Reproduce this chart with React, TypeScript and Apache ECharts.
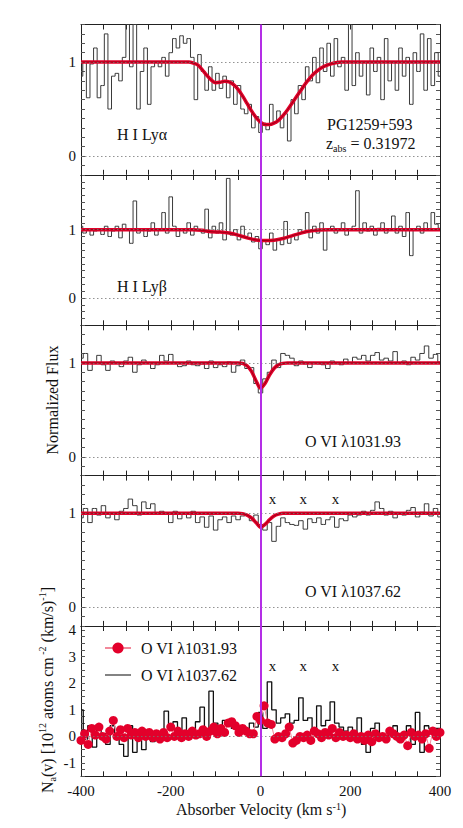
import React, { useEffect, useRef } from "react";
import * as echarts from "echarts";

const FONT = "'Liberation Serif', 'DejaVu Serif', serif";

// velocity grid descriptors (km/s)
const V_START = -400;
const STEP_HI = 8; // H I panels and O VI AOD points
const STEP_OVI = 10; // O VI flux panels and O VI 1037 AOD

const lyaFlux = [
  0.85, 1.0, 0.62, 0.98, 1.15, 0.62, 0.75, 1.3, 0.5, 0.85, 0.88, 0.8, 1.05, 1.4, 0.95, 1.4, 0.5, 0.9, 1.15, 0.55,
  0.95, 1.0, 0.95, 1.05, 0.85, 1.1, 1.25, 1.15, 1.28, 1.2, 1.25, 1.05, 0.6, 1.08, 0.9, 0.7, 0.95, 0.7, 0.88, 0.72,
  0.85, 0.62, 0.8, 0.55, 0.75, 0.5, 0.45, 0.55, 0.3, 0.42, 0.25, 0.35, 0.28, 0.55, 0.35, 0.48, 0.3, 0.45, 0.16, 0.6,
  0.45, 0.75, 0.6, 0.95, 0.8, 1.05, 0.78, 1.15, 0.9, 1.2, 0.85, 1.25, 0.95, 1.05, 0.7, 1.4, 0.75, 1.1, 0.85, 1.0,
  0.65, 1.15, 0.9, 1.05, 0.6, 1.25, 0.8, 1.0, 0.7, 1.15, 0.85, 1.05, 0.55, 1.1, 0.9, 1.3, 0.7, 1.25, 0.75, 1.1, 0.85,
];

const lybFlux = [
  1.05, 0.95, 1.0, 0.92, 0.98, 1.0, 0.93, 1.05, 0.9, 0.98, 1.05, 0.88, 1.08, 1.0, 0.8, 1.42, 0.95, 1.0, 0.9, 0.98,
  1.1, 0.92, 1.0, 1.25, 0.95, 1.48, 1.05, 0.9, 1.0, 0.95, 1.1, 0.92, 1.05, 1.0, 0.95, 1.3, 0.88, 1.05, 0.95, 1.1,
  0.85, 1.75, 0.92, 1.0, 0.85, 1.05, 0.9, 0.95, 0.82, 0.9, 0.72, 0.85, 0.78, 0.95, 0.7, 0.85, 0.78, 1.12, 0.8, 0.9,
  0.85, 1.0, 0.95, 1.25, 0.88, 1.05, 0.95, 1.1, 0.7, 1.0, 1.05, 0.95, 1.0, 1.1, 0.92, 1.0, 1.05, 1.57, 0.95, 1.1,
  0.98, 1.05, 0.92, 1.02, 1.1, 0.95, 1.0, 1.2, 0.95, 1.05, 0.9, 1.25, 0.62, 1.0, 1.05, 0.95, 1.1, 1.0, 1.25, 1.08, 1.02,
];

const o1031Flux = [
  1.05, 1.1, 0.92, 1.0, 1.08, 0.98, 0.92, 1.02, 1.0, 0.96, 1.02, 1.06, 0.9, 0.98, 1.03, 1.0, 0.94, 0.98, 1.08, 1.02,
  1.09, 1.0, 0.96, 0.97, 1.02, 0.98, 0.97, 0.99, 0.94, 1.02, 0.95, 0.98, 0.96, 1.01, 0.9, 0.97, 1.03, 0.94, 0.95, 0.78,
  0.68, 0.83, 0.9, 1.03, 0.95, 1.1, 1.08, 1.05, 0.97, 1.02, 0.99, 0.95, 1.0, 0.99, 0.98, 0.94, 1.02, 1.0, 0.98, 1.04,
  1.0, 1.06, 1.04, 1.08, 1.02, 1.08, 1.11, 1.03, 1.05, 1.02, 1.12, 1.0, 1.02, 0.98, 1.06, 1.03, 1.1, 1.18, 1.05, 1.09, 1.01,
];

const o1037Flux = [
  0.95, 1.05, 0.9, 1.05, 0.98, 1.08, 0.95, 1.0, 0.93, 1.02, 1.05, 1.15, 1.08, 0.98, 1.12, 1.05, 1.1, 1.0, 1.02, 1.0,
  0.9, 1.02, 0.94, 1.0, 0.95, 1.02, 0.9, 0.96, 0.85, 0.97, 0.82, 0.93, 0.96, 0.9, 0.97, 0.93, 0.97, 0.98, 0.92, 0.98,
  0.88, 0.82, 0.9, 0.7, 0.86, 0.95, 0.9, 0.88, 0.87, 0.92, 0.83, 0.94, 0.9, 0.95, 0.88, 0.93, 0.96, 0.85, 0.94, 0.92,
  0.98, 0.96, 0.98, 1.02, 0.98, 1.03, 1.12, 1.05, 0.98, 1.02, 0.95, 1.0, 0.98, 1.03, 1.06, 0.96, 1.01, 1.1, 0.97, 1.05, 0.96,
];

// apparent column density profiles, 10^12 atoms cm^-2 (km/s)^-1
const na1037 = [
  1.0, -0.1, 0.4, -0.4, 0.4, 0.1, -0.3, 0.4, 0.1, -0.3, -0.75, 0.4, -0.6, 0.2, -0.5, 0.1, -0.2, -0.1, 0.0, 0.95,
  0.3, 0.55, 0.2, 0.7, 0.2, 0.2, 0.55, 1.1, 0.25, 1.7, 0.5, 0.2, 0.6, 0.5, 0.3, 0.35, 0.4, 0.2, 0.5, 0.35,
  0.9, 0.3, 2.05, 1.0, 0.5, 0.7, 0.85, 0.5, 0.6, 1.45, 0.6, 0.7, 0.2, 1.15, 0.4, 0.6, 1.3, 0.5, 0.35, 0.2,
  0.35, 0.15, 0.7, -0.3, -0.6, 0.3, 0.5, 0.1, -0.1, 0.2, 0.4, -0.2, 0.1, 0.4, -0.3, 0.9, -0.6, 0.4, 0.3, 0.3, 0.3,
];

const na1031 = [
  -0.15, 0.1, -0.3, 0.3, 0.05, 0.35, 0.0, -0.1, 0.2, 0.6, 0.0, 0.25, -0.05, 0.3, 0.05, 0.15, -0.05, 0.2, 0.0, 0.15,
  -0.05, 0.1, -0.1, 0.15, -0.05, 0.35, 0.0, 0.2, -0.05, 0.1, 0.0, 0.2, 0.05, 0.1, 0.25, 0.0, 0.2, 0.35, 0.1, 0.3,
  0.15, 0.5, 0.55, 0.4, 0.15, 0.3, 0.2, 0.1, 0.1, 0.75, 0.6, 1.15, 0.5, 0.45, -0.1, 0.0, -0.05, 0.1, 0.35, -0.25,
  -0.15, 0.0, -0.05, 0.05, -0.15, 0.2, 0.1, -0.05, 0.15, 0.05, 0.3, -0.05, 0.15, 0.0, 0.05, -0.05, 0.1, -0.1, 0.0, -0.15,
  0.05, -0.2, 0.1, -0.05, 0.0, -0.1, 0.2, 0.1, 0.0, -0.1, 0.05, -0.35, 0.15, 0.0, 0.05, -0.1, 0.1, -0.45, 0.2, 0.0, 0.15,
];

// model fits (velocity, normalized flux)
const lyaFitVel = [-400, -200, -160, -150, -140, -130, -120, -110, -100, -90, -80, -70, -60, -50, -40, -30, -20, -10, 0, 10, 20, 30, 40, 50, 60, 70, 80, 90, 100, 110, 120, 130, 140, 150, 160, 170, 180, 200, 400];
const lyaFitFlux = [1, 1, 1, 0.99, 0.97, 0.92, 0.86, 0.81, 0.78, 0.785, 0.795, 0.79, 0.76, 0.71, 0.64, 0.56, 0.48, 0.41, 0.36, 0.335, 0.335, 0.35, 0.38, 0.43, 0.49, 0.56, 0.63, 0.7, 0.77, 0.83, 0.88, 0.92, 0.95, 0.97, 0.985, 0.995, 1, 1, 1];
const lybFitVel = [-400, -150, -130, -110, -90, -70, -50, -30, -10, 10, 30, 50, 70, 90, 110, 130, 150, 400];
const lybFitFlux = [1, 1, 0.99, 0.97, 0.965, 0.95, 0.92, 0.88, 0.85, 0.84, 0.845, 0.87, 0.91, 0.95, 0.98, 0.995, 1, 1];
const o1031FitVel = [-400, -50, -40, -30, -20, -10, 0, 10, 20, 30, 40, 50, 60, 400];
const o1031FitFlux = [1, 1, 0.995, 0.97, 0.91, 0.81, 0.73, 0.78, 0.87, 0.94, 0.98, 0.995, 1, 1];
const o1037FitVel = [-400, -50, -40, -30, -20, -10, 0, 10, 20, 30, 40, 50, 400];
const o1037FitFlux = [1, 1, 0.995, 0.98, 0.95, 0.9, 0.85, 0.88, 0.93, 0.97, 0.99, 1, 1];

const xTickLabels = [-400, -200, 0, 200, 400];
const contaminationVel = [27, 95, 167];

const PLOT_LEFT = 81;
const PLOT_WIDTH = 359;
const PANEL_TOPS = [24.5, 175, 325.3, 475.6, 626];
const PANEL_H = 150.3;
const Y_RANGES: [number, number, number][] = [
  [-0.2, 1.4, 0.1],
  [-0.4, 1.8, 0.1],
  [-0.2, 1.4, 0.1],
  [-0.2, 1.4, 0.1],
  [-1.5, 4.15, 0.25],
];

const RED = "#e3002b";
const MAGENTA = "#b42ee6";
const AXIS_C = "#222";

function grid(v: number[], start: number, step: number) {
  return v.map((y, i) => [start + step * i, y]);
}
function pairs(x: number[], y: number[]) {
  return x.map((xx, i) => [xx, y[i]]);
}

export default function App() {
  const ref = useRef<HTMLDivElement>(null);
  useEffect(() => {
    if (!ref.current) return;
    const chart = echarts.init(ref.current, null, { renderer: "svg" });

    const grids = PANEL_TOPS.map((t) => ({
      left: PLOT_LEFT,
      top: t,
      width: PLOT_WIDTH,
      height: PANEL_H,
      containLabel: false,
      outerBoundsMode: "none",
    }));

    const xAxes: any[] = [];
    const yAxes: any[] = [];
    PANEL_TOPS.forEach((_, gi) => {
      const isBottom = gi === PANEL_TOPS.length - 1;
      ["bottom", "top"].forEach((pos) => {
        xAxes.push({
          type: "value",
          gridIndex: gi,
          position: pos,
          min: -400,
          max: 400,
          interval: 50,
          axisLine: { show: true, onZero: false, lineStyle: { color: AXIS_C, width: 1 } },
          axisTick: { show: true, inside: true, length: 5, lineStyle: { color: AXIS_C } },
          axisLabel: {
            show: isBottom && pos === "bottom",
            formatter: (v: number) => (xTickLabels.includes(v) ? String(v) : ""),
            fontFamily: FONT,
            fontSize: 15,
            color: "#111",
            margin: 7,
          },
          splitLine: { show: false },
        });
      });
      const [mn, mx, iv] = Y_RANGES[gi];
      ["left", "right"].forEach((pos) => {
        yAxes.push({
          type: "value",
          gridIndex: gi,
          position: pos,
          min: mn,
          max: mx,
          interval: iv,
          axisLine: { show: true, onZero: false, lineStyle: { color: AXIS_C, width: 1 } },
          axisTick: { show: true, inside: true, length: 4, lineStyle: { color: "#555" } },
          axisLabel: {
            show: pos === "left",
            formatter: (v: number) => {
              const r = Math.round(v);
              if (Math.abs(v - r) > 1e-6) return "";
              if (gi < 4) return r === 0 || r === 1 ? String(r) : "";
              return r <= 4 ? String(r) : "";
            },
            fontFamily: FONT,
            fontSize: 15,
            color: "#111",
            margin: 5,
          },
          splitLine: { show: false },
        });
      });
    });

    const refLines = (gi: number) => ({
      silent: true,
      symbol: ["none", "none"],
      label: { show: false },
      data:
        gi < 4
          ? [
              { yAxis: 1, lineStyle: { color: "#777", type: [1.5, 2.5], width: 0.8 } },
              { yAxis: 0, lineStyle: { color: "#777", type: [1.5, 2.5], width: 0.8 } },
              { xAxis: 0, lineStyle: { color: MAGENTA, type: "solid", width: 2 } },
            ]
          : [
              { yAxis: 0, lineStyle: { color: "#777", type: [1.5, 2.5], width: 0.8 } },
              { xAxis: 0, lineStyle: { color: MAGENTA, type: "solid", width: 2 } },
            ],
    });

    const fluxPanels = [
      { data: grid(lyaFlux, V_START, STEP_HI), fit: pairs(lyaFitVel, lyaFitFlux) },
      { data: grid(lybFlux, V_START, STEP_HI), fit: pairs(lybFitVel, lybFitFlux) },
      { data: grid(o1031Flux, V_START, STEP_OVI), fit: pairs(o1031FitVel, o1031FitFlux) },
      { data: grid(o1037Flux, V_START, STEP_OVI), fit: pairs(o1037FitVel, o1037FitFlux) },
    ];

    const series: any[] = [];
    fluxPanels.forEach((p, gi) => {
      series.push({
        type: "line",
        xAxisIndex: gi * 2,
        yAxisIndex: gi * 2,
        data: p.data,
        step: "middle",
        symbol: "none",
        lineStyle: { color: "#3a3a3a", width: 1 },
        z: 2,
      });
      series.push({
        type: "line",
        xAxisIndex: gi * 2,
        yAxisIndex: gi * 2,
        data: p.fit,
        smooth: 0.3,
        symbol: "none",
        lineStyle: { color: RED, width: 3.5 },
        z: 3,
      });
      series.push({
        type: "line",
        xAxisIndex: gi * 2,
        yAxisIndex: gi * 2,
        data: p.fit,
        smooth: 0.3,
        symbol: "none",
        lineStyle: { color: "#8a0010", width: 0.8 },
        z: 4,
        markLine: refLines(gi),
      });
    });

    series.push({
      name: "O VI λ1037.62",
      type: "line",
      xAxisIndex: 8,
      yAxisIndex: 8,
      data: grid(na1037, V_START, STEP_OVI),
      step: "middle",
      symbol: "none",
      lineStyle: { color: "#111", width: 1.3 },
      itemStyle: { color: "#111" },
      z: 2,
    });
    series.push({
      name: "O VI λ1031.93",
      type: "line",
      xAxisIndex: 8,
      yAxisIndex: 8,
      data: grid(na1031, V_START, STEP_HI),
      symbol: "circle",
      symbolSize: 9,
      showSymbol: true,
      lineStyle: { color: "#f2889a", width: 1 },
      itemStyle: { color: RED, borderWidth: 0 },
      z: 3,
      markLine: refLines(4),
    });

    const txt = (text: string, x: number, y: number, size = 15, extra: any = {}) => ({
      type: "text",
      x,
      y,
      silent: true,
      z: 50,
      ...extra,
      style: {
        text,
        fontFamily: FONT,
        fontSize: size,
        fill: "#111",
        textAlign: "left",
        textVerticalAlign: "middle",
        align: "left",
        verticalAlign: "middle",
        ...(extra.style || {}),
      },
    });

    const graphics: any[] = [
      txt("H I Lyα", 117, 134, 16),
      txt("PG1259+593", 327, 124, 16),
      txt("{a|z}{s|abs}{a| = 0.31972}", 326, 143, 16, {
        style: {
          rich: {
            a: { fontFamily: FONT, fontSize: 16, lineHeight: 20, verticalAlign: "middle" },
            s: { fontFamily: FONT, fontSize: 10, lineHeight: 20, verticalAlign: "bottom" },
          },
        },
      }),
      txt("H I Lyβ", 117, 286, 16),
      txt("O VI λ1031.93", 305, 441, 16),
      txt("O VI λ1037.62", 305, 591, 16),
      txt("Normalized Flux", 52, 400, 16, {
        rotation: Math.PI / 2,
        style: { textAlign: "center", align: "center" },
      }),
      txt(
        "{a|N}{s|a}{a|(v) [10}{p|12}{a| atoms cm}{p| -2}{a| (km/s)}{p|-1}{a|]}",
        47,
        690,
        16,
        {
          rotation: Math.PI / 2,
          style: {
            textAlign: "center",
            align: "center",
            rich: {
              a: { fontFamily: FONT, fontSize: 16, lineHeight: 20, verticalAlign: "middle" },
              s: { fontFamily: FONT, fontSize: 10, lineHeight: 20, verticalAlign: "bottom" },
              p: { fontFamily: FONT, fontSize: 10, lineHeight: 20, verticalAlign: "top" },
            },
          },
        }
      ),
      txt("{a|Absorber Velocity (km s}{p|-1}{a|)}", 261, 809, 16, {
        style: {
          textAlign: "center",
          align: "center",
          rich: {
            a: { fontFamily: FONT, fontSize: 16, lineHeight: 16, verticalAlign: "middle" },
            p: { fontFamily: FONT, fontSize: 10, lineHeight: 16, verticalAlign: "top" },
          },
        },
      }),
    ];
    // contamination markers "x" in the O VI 1037 flux and AOD panels
    contaminationVel.forEach((v) => {
      const px = PLOT_LEFT + ((v + 400) / 800) * PLOT_WIDTH;
      graphics.push(txt("x", px, 499, 15, { style: { textAlign: "center", align: "center" } }));
      graphics.push(txt("x", px, 666, 15, { style: { textAlign: "center", align: "center" } }));
    });

    chart.setOption({
      animation: false,
      backgroundColor: "#fff",
      grid: grids,
      xAxis: xAxes,
      yAxis: yAxes,
      legend: {
        show: true,
        orient: "vertical",
        left: 99,
        top: 635,
        itemWidth: 26,
        itemHeight: 14,
        itemGap: 11,
        data: [
          { name: "O VI λ1031.93" },
          { name: "O VI λ1037.62", icon: "path://M0,0L100,0L100,4L0,4Z" },
        ],
        textStyle: { fontFamily: FONT, fontSize: 16, color: "#111", padding: [0, 0, 0, 5] },
        selectedMode: false,
      },
      series,
      graphic: graphics,
    });
    return () => chart.dispose();
  }, []);
  return <div ref={ref} style={{ width: 463, height: 828, position: "absolute", left: 0, top: 0 }} />;
}
